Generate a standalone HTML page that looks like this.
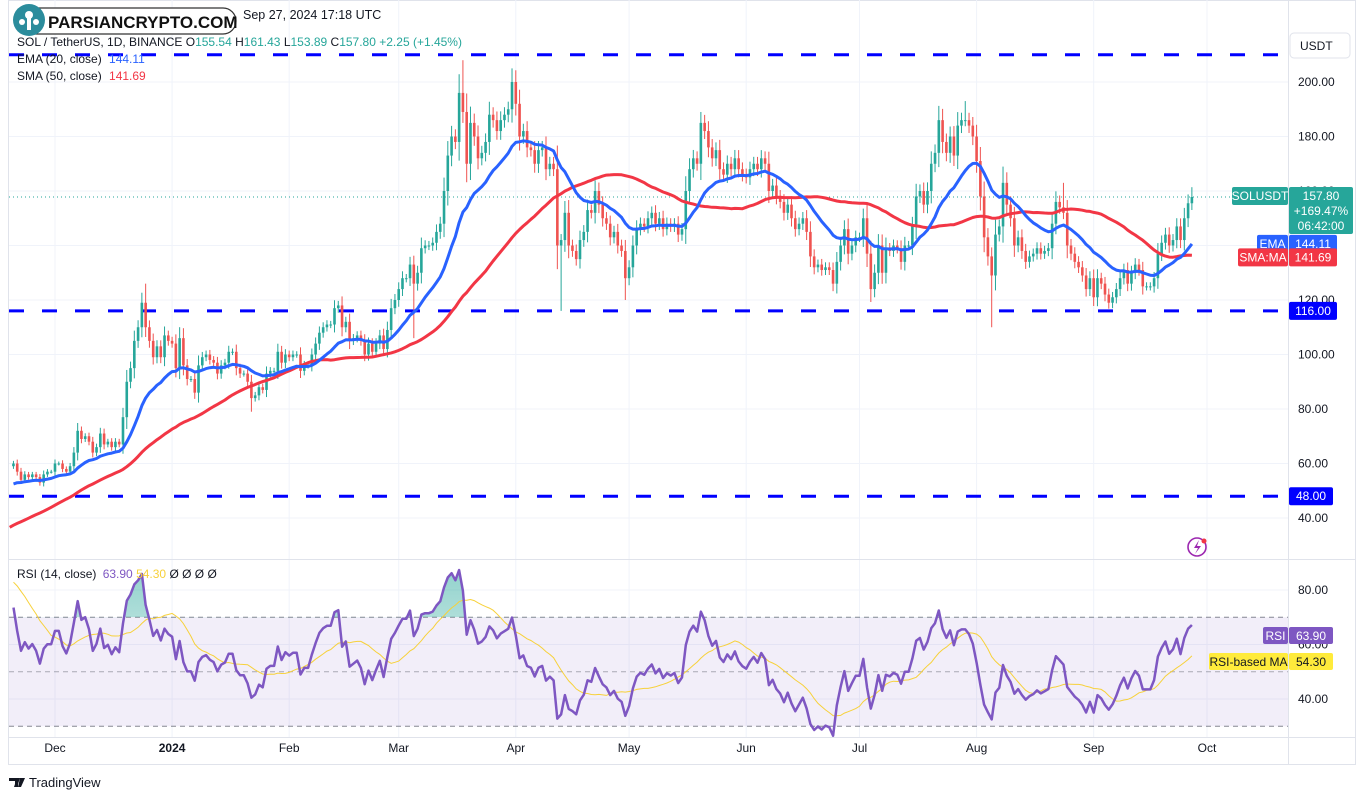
<!DOCTYPE html>
<html><head><meta charset="utf-8">
<style>
html,body{margin:0;padding:0;background:#fff;}
body{width:1366px;height:800px;overflow:hidden;font-family:"Liberation Sans",sans-serif;}
svg text{font-family:"Liberation Sans",sans-serif;}
</style></head>
<body>
<svg id="chart" width="1366" height="800" viewBox="0 0 1366 800" xmlns="http://www.w3.org/2000/svg">
  <rect x="0" y="0" width="1366" height="800" fill="#ffffff"/>
  <rect x="8.5" y="0.5" width="1347" height="764" fill="none" stroke="#e0e3eb"/>
  <g id="grid"></g>
  <g id="rsiBg"></g>
  <g id="main"></g>
  <g id="rsi"></g>
  <g id="axes"></g>
  <g id="tags"></g>

  <!-- header -->
  <g>
    <text x="243" y="19" font-size="12.5" fill="#131722">Sep 27, 2024 17:18 UTC</text>
    <text x="17" y="46" font-size="12" fill="#131722">SOL / TetherUS, 1D, BINANCE <tspan fill="#131722">O</tspan><tspan fill="#26a69a">155.54</tspan> H<tspan fill="#26a69a">161.43</tspan> L<tspan fill="#26a69a">153.89</tspan> C<tspan fill="#26a69a">157.80</tspan> <tspan fill="#26a69a">+2.25 (+1.45%)</tspan></text>
    <text x="17" y="63" font-size="12" fill="#131722">EMA (20, close) <tspan dx="4" fill="#2962ff">144.11</tspan></text>
    <text x="17" y="80" font-size="12" fill="#131722">SMA (50, close) <tspan dx="4" fill="#f23645">141.69</tspan></text>
    <rect x="16" y="8" width="220" height="26" rx="13" fill="#ffffff" stroke="#333" stroke-width="1.2"/>
    <circle cx="29" cy="20" r="16" fill="#2b8c9c"/>
    <circle cx="29" cy="15" r="4" fill="#fff"/><circle cx="22" cy="22" r="3" fill="#fff"/><circle cx="36" cy="22" r="3" fill="#fff"/>
    <rect x="27" y="18" width="4" height="12" fill="#fff"/>
    <text x="48" y="28" font-size="17" font-weight="bold" fill="#111">PARSIANCRYPTO.COM</text>
    <text x="17" y="578" font-size="12" fill="#131722">RSI (14, close) <tspan dx="3" fill="#7e57c2">63.90</tspan> <tspan fill="#f7d13a">54.30</tspan> <tspan>Ø  Ø  Ø  Ø</tspan></text>
  </g>
  <g>
    <rect x="1290" y="33" width="60" height="25" rx="4" fill="#fff" stroke="#e0e3eb"/>
    <text x="1300" y="50" font-size="12" fill="#131722">USDT</text>
  </g>
  <g>
    <circle cx="1197" cy="547" r="9" fill="none" stroke="#9c27b0" stroke-width="1.6"/>
    <path d="M1199 540 L1194 548 L1198 548 L1195 554 L1201 546 L1197 546 Z" fill="#9c27b0"/>
    <circle cx="1204" cy="541" r="2.5" fill="#f23645"/>
  </g>
  <g>
    <path d="M9 778 h9 v9 h-3 v-6 h-6z M17 778 h3 l-3 9 h-3z M20 778 h5 l-4 9 h-3z" fill="#131722"/>
    <text x="29" y="787" font-size="13" fill="#131722">TradingView</text>
  </g>
</svg>
<script>
const prehist=[22,23,23,24,23,23,22,23,23,22,21,21,21,21,22,23,24,24,25,29,31,32,32,33,33,34,35,37,38,40,40,41,42,39,42,45,46,48,48,52,56,57,56,58,57,59,62,58,60,59];
const closes=[
60,57,54,56,55,56,55,53,56,57,57,
60,60,58,57,59,64,72,69,70,68,64,66,71,67,68,66,68,67,77,90,95,105,110,119,110,105,99,103,99,107,105,
104,95,106,96,91,91,86,96,99,100,98,97,93,96,97,101,101,95,93,93,90,84,85,88,87,93,94,94,101,97,100,
99,100,100,94,96,96,100,104,108,110,111,111,117,118,110,112,105,106,107,105,100,104,101,104,107,102,109,117,120,
124,128,128,133,126,130,139,140,140,141,145,148,160,173,180,178,196,189,170,185,180,172,174,178,188,186,182,186,188,190,200,
192,180,182,176,175,170,175,176,168,170,168,140,142,152,140,138,135,142,145,153,152,160,155,150,148,143,145,140,138,128,
132,140,146,148,147,150,152,148,150,146,148,147,148,144,146,160,168,172,170,185,182,176,172,175,168,166,170,168,172,168,166,
165,168,170,168,172,170,160,162,158,156,152,155,150,146,148,150,145,136,132,133,131,132,131,126,134,140,146,137,140,143,
143,150,137,124,130,140,130,139,138,140,139,134,140,140,147,158,160,155,160,170,174,186,178,174,180,173,184,186,186,184,180,
171,158,143,136,129,144,147,163,155,150,140,143,138,134,136,137,139,137,138,139,148,156,154,152,140,137,134,132,129,124,128,
121,128,126,122,119,121,124,128,131,126,130,133,131,125,125,125,128,137,141,144,140,142,147,142,150,155.5,157.8];
const highMarks=[[35,126],[119,208],[132,205],[182,189],[198,175],[252,193],[278,163],[312,161.4]];
const lowMarks=[[63,79],[106,106],[145,116],[162,120],[228,121],[259,110],[291,117]];
const priceTicks=[40,60,80,100,120,140,160,180,200];
const levels=[210,116,48];
const monthLabels=['Dec','2024','Feb','Mar','Apr','May','Jun','Jul','Aug','Sep','Oct'];
const monthIdx=[11,42,73,102,133,163,194,224,255,286,316];
const rsiTicks=[40,60,80];

const NS='http://www.w3.org/2000/svg';
function mk(tag,attrs,parent){const e=document.createElementNS(NS,tag);for(const k in attrs)e.setAttribute(k,attrs[k]);parent.appendChild(e);return e;}
const X=i=>55+(i-11)*3.777;
const Y=p=>82+(200-p)*2.725;
const RY=r=>590+(80-r)*2.725;
const PL=9,PR=1288;

const all=prehist.concat(closes),N0=prehist.length;
// indicators
const ema=[];let e=all.slice(0,20).reduce((a,b)=>a+b)/20;
for(let i=0;i<all.length;i++){if(i>=20)e=all[i]*2/21+e*19/21;ema.push(e);}
const sma=all.map((v,i)=>{const s=Math.max(0,i-49);const a=all.slice(s,i+1);return a.reduce((x,y)=>x+y)/a.length;});
const rsi=[];let ag=0,al=0;
for(let i=1;i<all.length;i++){const d=all[i]-all[i-1];const g=Math.max(d,0),l=Math.max(-d,0);
 if(i<=14){ag+=g/14;al+=l/14;}else{ag=(ag*13+g)/14;al=(al*13+l)/14;}
 rsi[i]=al===0?100:100-100/(1+ag/al);}
const rsiMa=all.map((v,i)=>{if(i<15)return null;const a=rsi.slice(Math.max(1,i-13),i+1);return a.reduce((x,y)=>x+y)/a.length;});

const grid=document.getElementById('grid');
priceTicks.forEach(p=>{const l=mk('line',{x1:PL,x2:PR,y1:Y(p),y2:Y(p),stroke:'#f0f3fa'},grid);

});
rsiTicks.forEach(r=>{const l=mk('line',{x1:PL,x2:PR,y1:RY(r),y2:RY(r),stroke:'#f0f3fa'},grid);

});
monthIdx.forEach(i=>{const l=mk('line',{x1:X(i),x2:X(i),y1:0,y2:737,stroke:'#f0f3fa'},grid);

});

// rsi band
const rb=document.getElementById('rsiBg');
const band=mk('rect',{x:PL,y:RY(70),width:PR-PL,height:RY(30)-RY(70),fill:'#7e57c2','fill-opacity':0.1},rb);


[70,50,30].forEach(r=>{const l=mk('line',{x1:PL,x2:PR,y1:RY(r),y2:RY(r),stroke:'#787b86','stroke-dasharray':'5 4','stroke-opacity':r==50?0.6:0.9},rb);

});

const main=document.getElementById('main');
// pane separators
const sep=mk('line',{x1:PL,x2:1355,y1:559.5,y2:559.5,stroke:'#e0e3eb'},main);


// last price dotted
const lp=mk('line',{x1:PL,x2:PR,y1:Y(closes[closes.length-1]),y2:Y(closes[closes.length-1]),stroke:'#26a69a','stroke-dasharray':'1 3'},main);


// levels
levels.forEach(p=>{const l=mk('line',{x1:PL,x2:PR,y1:Y(p),y2:Y(p),stroke:'#0000ff','stroke-width':3,'stroke-dasharray':'15 18'},main);

});
// candles
const hiMap={},loMap={};highMarks.forEach(([i,v])=>hiMap[i]=v);lowMarks.forEach(([i,v])=>loMap[i]=v);
closes.forEach((c,i)=>{const o=i===0?prehist[prehist.length-1]:closes[i-1];
 const up=c>=o,col=up?'#26a69a':'#ef5350';
 const w=Math.abs(c-o)*0.25+c*0.012;
 const h=hiMap[i]!==undefined?hiMap[i]:Math.max(o,c)+w;
 const lo=loMap[i]!==undefined?loMap[i]:Math.min(o,c)-w;
 const x=X(i);
 const g=mk('g',{},main);
 
 
 mk('line',{x1:x,x2:x,y1:Y(h),y2:Y(lo),stroke:col,'stroke-width':1},g);
 const t=Y(Math.max(o,c)),b=Y(Math.min(o,c));
 mk('rect',{x:x-1.3,y:t,width:2.6,height:Math.max(1,b-t),fill:col},g);
});
function path(arr,fy,from){let d='';arr.forEach((v,k)=>{if(v==null)return;const i=k-N0;if(i<from)return;d+=(d?'L':'M')+X(i).toFixed(1)+' '+fy(v).toFixed(1);});return d;}
const smaP=mk('path',{d:path(sma,Y,-1),fill:'none',stroke:'#f23645','stroke-width':3,'stroke-linejoin':'round'},main);


const emaP=mk('path',{d:path(ema,Y,0),fill:'none',stroke:'#2962ff','stroke-width':3,'stroke-linejoin':'round'},main);



// rsi
const rg=document.getElementById('rsi');
const defs=mk('defs',{},rg);
const cp=mk('clipPath',{id:'ob'},defs);mk('rect',{x:0,y:0,width:1366,height:RY(70)},cp);
const gr=mk('linearGradient',{id:'gg',x1:0,y1:0,x2:0,y2:1},defs);
mk('stop',{offset:0,'stop-color':'#26a69a','stop-opacity':0.5},gr);mk('stop',{offset:1,'stop-color':'#26a69a','stop-opacity':0.05},gr);
const rp=path(rsi,RY,0);
const ob=mk('path',{d:rp+'L'+X(closes.length-1)+' '+RY(70)+'L'+X(0)+' '+RY(70)+'Z',fill:'url(#gg)','clip-path':'url(#ob)'},rg);


const maP=mk('path',{d:path(rsiMa,RY,0),fill:'none',stroke:'#f7d13a','stroke-width':1},rg);


const rsiP=mk('path',{d:rp,fill:'none',stroke:'#7e57c2','stroke-width':2.5,'stroke-linejoin':'round'},rg);



// axes
const ax=document.getElementById('axes');
mk('line',{x1:PR+0.5,x2:PR+0.5,y1:0,y2:764,stroke:'#e0e3eb'},ax);
mk('line',{x1:8,x2:1355,y1:737.5,y2:737.5,stroke:'#e0e3eb'},ax);
priceTicks.forEach(p=>{const t=mk('text',{x:1298,y:Y(p)+4,'font-size':12,fill:'#131722'},ax);t.textContent=p.toFixed(2);

});
rsiTicks.forEach(r=>{const t=mk('text',{x:1298,y:RY(r)+4,'font-size':12,fill:'#131722'},ax);t.textContent=r.toFixed(2);

});
monthLabels.forEach((m,k)=>{const t=mk('text',{x:X(monthIdx[k]),y:752,'font-size':12,fill:'#131722','text-anchor':'middle','font-weight':m==='2024'?'bold':'normal'},ax);t.textContent=m;

});

// tags
const tg=document.getElementById('tags');
function tag(name,x,y,w,h,fill,txt,tc,fs){const g=mk('g',{},tg);
 
 
 mk('rect',{x:x,y:y,width:w,height:h,rx:2,fill:fill},g);
 txt.forEach((s,k)=>{const t=mk('text',{x:x+w/2,y:y+13+k*15,'font-size':fs||12,fill:tc,'text-anchor':'middle'},g);t.textContent=s;});}
const last=closes[closes.length-1];
const ly=Y(last);
tag('solusdt-label',1232,ly-10,56,18,'#26a69a',['SOLUSDT'],'#fff');
tag('last-price-tag',1289,ly-10,64,47,'#26a69a',['157.80','+169.47%','06:42:00'],'#fff');
const ev=ema[ema.length-1],sv=sma[sma.length-1];
tag('ema-label',1257,Y(ev)-9,31,18,'#2962ff',['EMA'],'#fff');
tag('ema-value-tag',1289,Y(ev)-9,48,18,'#2962ff',['144.11'],'#fff');
tag('sma-label',1238,Y(sv)-7,50,18,'#f23645',['SMA:MA'],'#fff');
tag('sma-value-tag',1289,Y(sv)-7,48,18,'#f23645',['141.69'],'#fff');
tag('level-116-tag',1289,Y(116)-9,48,18,'#0000ff',['116.00'],'#fff');
tag('level-48-tag',1289,Y(48)-9,44,18,'#0000ff',['48.00'],'#fff');
tag('rsi-label',1263,627,25,17,'#7e57c2',['RSI'],'#fff');
tag('rsi-value-tag',1289,627,44,17,'#7e57c2',['63.90'],'#fff');
tag('rsi-ma-label',1209,653,79,17,'#ffeb3b',['RSI-based MA'],'#131722');
tag('rsi-ma-value-tag',1289,653,44,17,'#ffeb3b',['54.30'],'#131722');
</script>
</body></html>
